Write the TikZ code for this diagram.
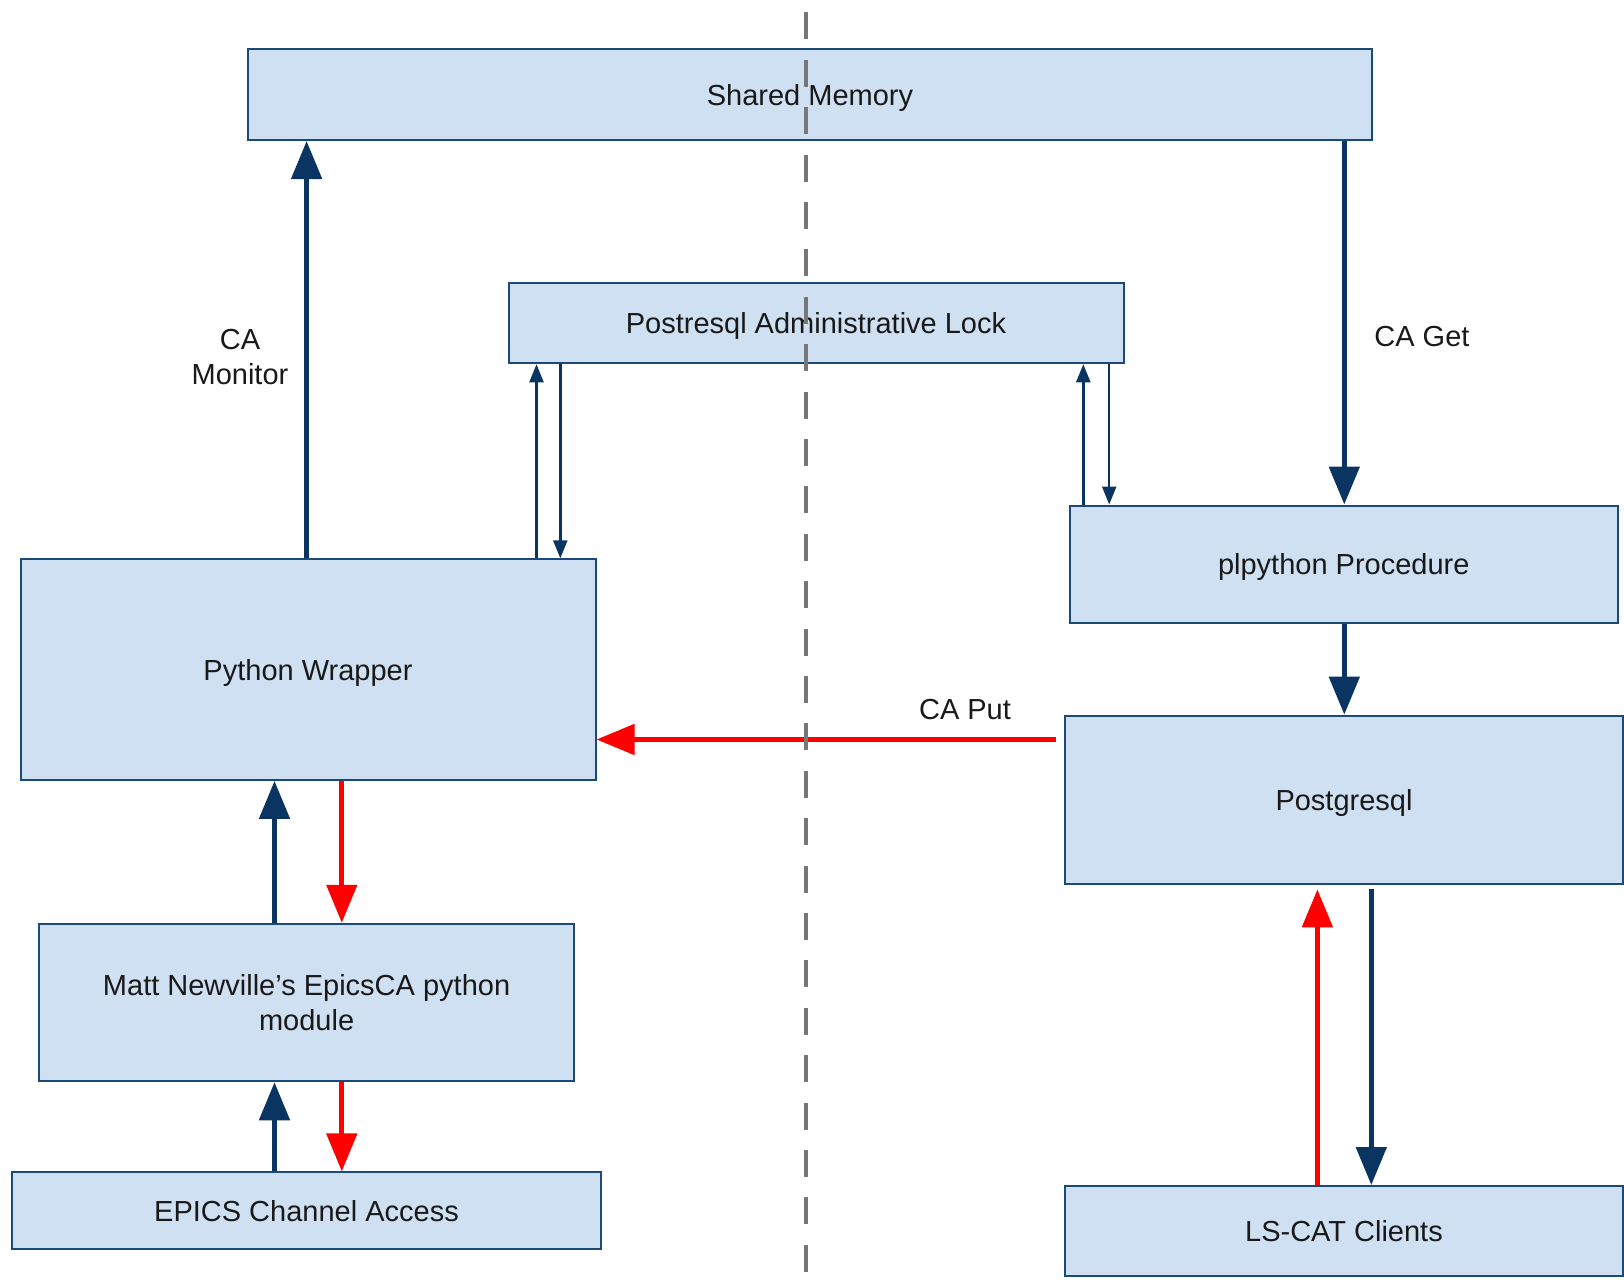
\documentclass[tikz,border=0pt]{standalone}
\usepackage{fontspec}
\setmainfont{Liberation Sans}
\usetikzlibrary{arrows.meta}
\definecolor{boxfill}{HTML}{CFE0F2}
\definecolor{boxline}{HTML}{1C4A78}
\definecolor{navy}{HTML}{0A3563}
\definecolor{redarr}{HTML}{FF0000}
\definecolor{dashgray}{HTML}{777777}
\tikzset{
  box/.style={draw=boxline, fill=boxfill, line width=1pt, inner sep=0pt, align=center,
    font=\fontsize{14.5}{17.5}\selectfont, text=black!90},
  onebox/.style={box, text depth=0pt},
  bigarrow/.style={draw=navy, line width=2.5pt, -{Triangle[width=15pt,length=19pt]}},
  bigred/.style={draw=redarr, line width=2.5pt, -{Triangle[width=15pt,length=19pt]}},
  thinarrow/.style={draw=navy, line width=1.2pt, -{Triangle[width=7pt,length=9pt]}},
  lbl/.style={font=\fontsize{14.5}{17.5}\selectfont, text=black!90, inner sep=0pt, align=center},
}
\begin{document}
\begin{tikzpicture}[x=0.5pt,y=-0.5pt]
\path[use as bounding box, fill=white] (0,0) rectangle (1624,1281);

% boxes
\node[onebox, minimum width=562pt, minimum height=45.5pt] (sm) at (810,94.5) {Shared Memory};
\node[onebox, minimum width=307.5pt, minimum height=40.25pt] (lock) at (816,323) {Postresql Administrative Lock};
\node[onebox, minimum width=287.5pt, minimum height=110.3pt] (pw) at (308,669.6) {Python Wrapper};
\node[box, minimum width=267.2pt, minimum height=78.75pt] (matt) at (306.6,1002.5) {Matt Newville's EpicsCA python\\module};
\node[onebox, minimum width=294.2pt, minimum height=38.3pt] (epics) at (306.5,1210.7) {EPICS Channel Access};
\node[onebox, minimum width=274pt, minimum height=58.5pt] (plp) at (1343.8,564) {plpython Procedure};
\node[onebox, minimum width=279pt, minimum height=84.4pt] (pg) at (1344,800) {Postgresql};
\node[onebox, minimum width=279pt, minimum height=45pt] (ls) at (1344,1231) {LS-CAT Clients};

% column coordinates
\coordinate (cMon) at (306.6,0);
\coordinate (cGet) at (1344.3,0);
\coordinate (cL1) at (536.5,0);
\coordinate (cL2) at (560.3,0);
\coordinate (cR1) at (1083.3,0);
\coordinate (cR2) at (1109.2,0);
\coordinate (cUp) at (274.5,0);
\coordinate (cDn) at (341.8,0);
\coordinate (cPgUp) at (1317.4,0);
\coordinate (cPgDn) at (1371.3,0);
\coordinate (putStart) at (1056.4,739.5);

% connectors
\draw[bigarrow] (pw.north -| cMon) -- (sm.south -| cMon);
\draw[bigarrow] (sm.south -| cGet) -- (plp.north -| cGet);
\draw[bigarrow] (plp.south -| cGet) -- (pg.north -| cGet);

\draw[thinarrow] (pw.north -| cL1) -- (lock.south -| cL1);
\draw[thinarrow] (lock.south -| cL2) -- (pw.north -| cL2);
\draw[thinarrow] (plp.north -| cR1) -- (lock.south -| cR1);
\draw[thinarrow] (lock.south -| cR2) -- (plp.north -| cR2);

\draw[bigred] (putStart) -- (pw.east |- putStart);

\draw[bigarrow] (matt.north -| cUp) -- (pw.south -| cUp);
\draw[bigred] (pw.south -| cDn) -- (matt.north -| cDn);
\draw[bigarrow] (epics.north -| cUp) -- (matt.south -| cUp);
\draw[bigred] (matt.south -| cDn) -- (epics.north -| cDn);

\draw[bigred] (ls.north -| cPgUp) -- ([yshift=-2pt]pg.south -| cPgUp);
\draw[bigarrow] ([yshift=-2pt]pg.south -| cPgDn) -- (ls.north -| cPgDn);

% labels
\node[lbl] (lmon) at (240,357) {CA\\Monitor};
\node[lbl, anchor=west] (lget) at (1374,337) {CA Get};
\node[lbl] (lput) at (965,710) {CA Put};

% dashed divider
\coordinate (dTop) at (805.8,12.4);
\coordinate (dBot) at (805.8,1272);
\draw[dashgray, line width=2.25pt, dash pattern=on 13.5pt off 10.2pt] (dTop) -- (dBot);
\end{tikzpicture}
\end{document}
